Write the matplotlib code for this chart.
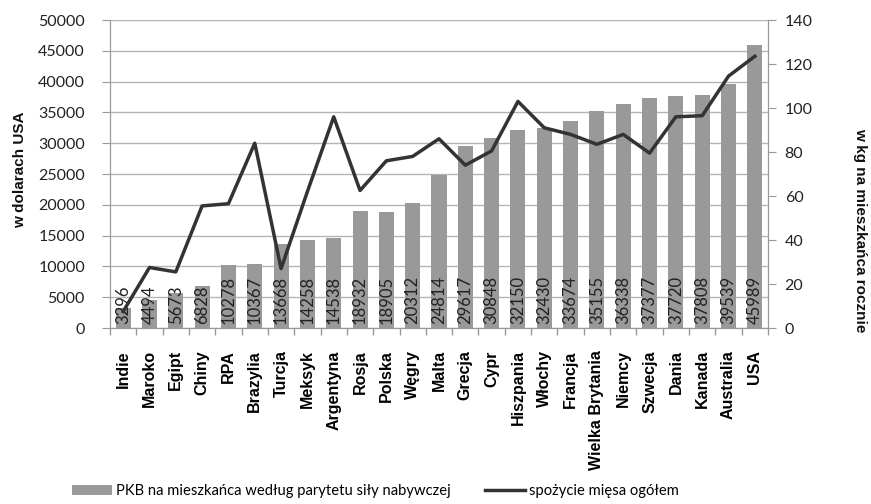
import matplotlib
matplotlib.use("Agg")
import matplotlib.pyplot as plt
import numpy as np
from matplotlib.patches import Patch
from matplotlib.lines import Line2D

countries = ["Indie", "Maroko", "Egipt", "Chiny", "RPA", "Brazylia", "Turcja", "Meksyk",
             "Argentyna", "Rosja", "Polska", "Węgry", "Malta", "Grecja", "Cypr", "Hiszpania",
             "Włochy", "Francja", "Wielka Brytania", "Niemcy", "Szwecja", "Dania", "Kanada",
             "Australia", "USA"]
gdp = [3296, 4494, 5673, 6828, 10278, 10367, 13668, 14258, 14538, 18932, 18905, 20312,
       24814, 29617, 30848, 32150, 32430, 33674, 35155, 36338, 37377, 37720, 37808,
       39539, 45989]
meat = [7.5, 27.5, 25.5, 55.5, 56.5, 84, 27, 62, 96, 62.5, 76, 78, 86, 74, 80.5, 103,
        91, 88, 83.5, 88, 79.5, 96, 96.5, 114.5, 123.5]

gdp_label = "PKB na mieszkańca według parytetu siły nabywczej"
meat_label = "spożycie mięsa ogółem"

num_font = "Lato"
cat_font = "Liberation Sans"

fig = plt.figure(figsize=(8.71, 5.04), dpi=100)
ax = fig.add_axes([110 / 871, 1 - 328 / 504, 658 / 871, 308 / 504])
ax2 = ax.twinx()

x = np.arange(len(countries))
ax.bar(x, gdp, width=0.57, color="#999999", zorder=2)
for xi, v in zip(x, gdp):
    ax.annotate(str(v), (xi, 0), xytext=(0, 3), textcoords="offset points",
                rotation=90, ha="center", va="bottom", fontsize=12,
                family=num_font, color="#222222", zorder=3)

ax2.plot(x, meat, color="#333333", linewidth=2.5, zorder=4)

ax.set_xlim(-0.5, len(countries) - 0.5)
ax.set_ylim(0, 50000)
ax.set_yticks(range(0, 50001, 5000))
ax2.set_ylim(0, 140)
ax2.set_yticks(range(0, 141, 20))

ax.yaxis.grid(True, color="#b5b5b5", linewidth=1.0, zorder=0)
ax.set_axisbelow(True)

ax.set_xticks(x)
ax.set_xticklabels(countries, rotation=90, fontsize=11.5, fontweight="bold", family=cat_font)
ax.tick_params(axis="x", length=0, pad=16)
ax.set_xticks(np.arange(-0.5, len(countries), 1.0), minor=True)
ax.tick_params(axis="x", which="minor", length=5, color="#999999", width=1)

for a in (ax, ax2):
    for s in a.spines.values():
        s.set_color("#999999")
    a.spines["top"].set_visible(False)
    a.tick_params(axis="y", length=6, color="#999999", labelsize=11.5, labelcolor="#222222")
    for lab in a.get_yticklabels():
        lab.set_family(num_font)
ax.tick_params(axis="y", pad=12)
ax2.tick_params(axis="y", pad=6)

fig.text(20 / 871, 1 - 170 / 504, "w dolarach USA", rotation=90, ha="center", va="center",
         fontsize=11, fontweight="bold", family=cat_font, color="#111111")
fig.text(860 / 871, 1 - 230 / 504, "w kg na mieszkańca rocznie", rotation=-90, ha="center",
         va="center", fontsize=11, fontweight="bold", family=cat_font, color="#111111")

handles = [Patch(facecolor="#999999", edgecolor="none"),
           Line2D([0], [0], color="#333333", linewidth=2.5)]
leg = fig.legend(handles, [gdp_label, meat_label], loc="center left",
                 bbox_to_anchor=(72 / 871, 1 - 491 / 504), borderpad=0, borderaxespad=0,
                 ncol=2, frameon=False, handlelength=2.7, handletextpad=0.3, columnspacing=2.3,
                 prop={"family": num_font, "size": 10.6})

fig.savefig("out.png", dpi=100)
